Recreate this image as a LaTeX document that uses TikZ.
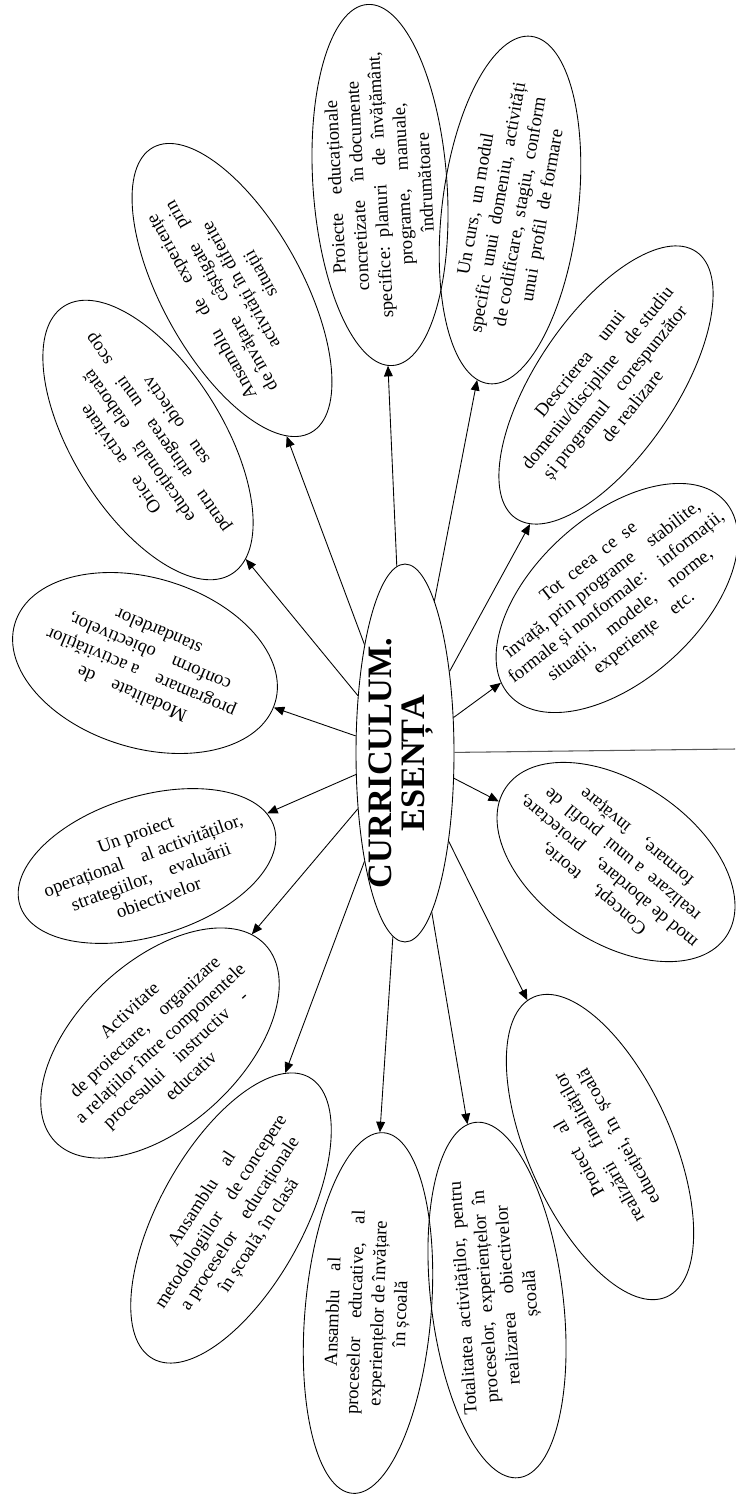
\documentclass[tikz,border=0pt]{standalone}
\usepackage{fontspec}
\setmainfont{Liberation Serif}
\usetikzlibrary{arrows.meta, shapes.geometric}
\tikzset{
  every picture/.style={line width=0.5pt},
  petal/.style n args={3}{draw, ellipse, inner sep=0pt, minimum width=#1cm, minimum height=#2cm, rotate=#3},
  words/.style={align=center, inner sep=0pt, font=\fontsize{10.6}{12.8}\selectfont},
  arrow/.style={-{Triangle[length=6pt, width=5pt]}},
  rule/.style={draw=black!65, line width=0.6pt},
}

\begin{document}
\begin{tikzpicture}[x=0.02cm, y=-0.02cm]
  \useasboundingbox (0,0) rectangle (735,1497);
  % centre
  \node[petal={7.56}{1.96}{90}] (core) at (405,753) {};
  \node[rotate=90, align=center, inner sep=0pt, font=\fontsize{19.5}{19}\selectfont\bfseries] (coret) at (401,763) {CURRICULUM.\\ESENȚA};
  \coordinate (edge) at (735,749);
  \draw[rule] (edge) -- (core);
  % petals
  \node[petal={5.44}{3.4}{163}] (modal) at (145,663) {};
  \node[words, rotate=157] (modalt) at (modal) {Modalitate\quad de\\programare\quad a activităților\\conform\quad obiectivelor,\\standardelor};
  \node[petal={6.32}{3.0}{122}] (orice) at (148,440) {};
  \node[words, rotate=125] (oricet) at (orice) {Orice\quad activitate\\educațională\quad elaborată\\pentru\quad atingerea\quad unui\quad scop\\sau\quad obiectiv};
  \node[petal={6.52}{2.8}{119}] (expe) at (232,290) {};
  \node[words, rotate=119] (expet) at (expe) {Ansamblu\quad de\quad experiențe\\de învățare\quad câștigate\quad prin\\activități în diferite\\situații};
  \node[petal={7.24}{2.68}{94}] (proiecte) at (380,185) {};
  \node[words, rotate=93] (proiectet) at (proiecte) {Proiecte\quad educaționale\\concretizate\quad în documente\\specifice:\enspace planuri\quad de\enspace învățământ,\\programe,\quad manuale,\\îndrumătoare};
  \node[petal={7.0}{2.72}{83}] (curs) at (510,210) {};
  \node[words, rotate=80] (curst) at (curs) {Un curs,\enspace un modul\\specific\enspace unui\enspace domeniu,\enspace activități\\de codificare,\enspace stagiu,\enspace conform\\unui\enspace profil\enspace de formare};
  \node[petal={6.44}{2.8}{56}] (descr) at (606,385) {};
  \node[words, rotate=51] (descrt) at (descr) {Descrierea\quad unui\\domeniu/discipline\quad de studiu\\și programul\quad corespunzător\\de realizare};
  \node[petal={5.8}{3.28}{42}] (totce) at (617,598) {};
  \node[words, rotate=38] (totcet) at (totce) {Tot\enspace ceea\enspace ce\enspace se\\învață, prin programe\quad stabilite,\\formale și nonformale:\quad informații,\\situații,\quad modele,\quad norme,\\experiențe\quad etc.};
  \node[petal={5.32}{3.2}{146}] (concept) at (616,862) {};
  \node[words, rotate=140] (conceptt) at (concept) {Concept,\quad teorie,\\mod de abordare,\quad proiectare,\\realizare\enspace a unui\enspace profil\enspace de\\formare,\quad învățare};
  \node[petal={6.56}{2.88}{114}] (proiect) at (600,1147) {};
  \node[words, rotate=119] (proiectt) at (proiect) {Proiect\quad al\\realizării\quad finalităților\\educației,\enspace în\enspace școală};
  \node[petal={7.16}{2.64}{97}] (total) at (497,1300) {};
  \node[words, rotate=94] (totalt) at (498,1296) {Totalitatea\enspace activităților,\enspace pentru\\proceselor,\enspace experiențelor\enspace în\\realizarea\quad obiectivelor\\școală};
  \node[petal={7.24}{2.52}{85}] (procese) at (368,1313) {};
  \node[words, rotate=88] (proceset) at (procese) {Ansamblu\quad al\\proceselor\quad educative,\quad al\\experiențelor de învățare\\în școală};
  \node[petal={6.44}{2.88}{61}] (metodo) at (231,1218) {};
  \node[words, rotate=57] (metodot) at (metodo) {Ansamblu\quad al\\metodologiilor\quad de concepere\\a proceselor\quad educaționale\\în școală, în clasă};
  \node[petal={5.76}{3.28}{43}] (activ) at (160,1043) {};
  \node[words, rotate=43] (activt) at (activ) {Activitate\\de proiectare,\quad organizare\\a relațiilor între componentele\\procesului\quad instructiv\quad -\\educativ};
  \node[petal={5.32}{2.8}{17}] (operat) at (147,866) {};
  \node[words, rotate=20] (operatt) at (operat) {Un proiect\\operațional\quad al activităților,\\strategiilor,\quad evaluării\\obiectivelor};
  % arrows
  \foreach \p in {modal, orice, expe, proiecte, curs, descr, totce, concept, proiect, total, procese, metodo, activ, operat}
    \draw[arrow] (core) -- (\p);
\end{tikzpicture}
\end{document}
